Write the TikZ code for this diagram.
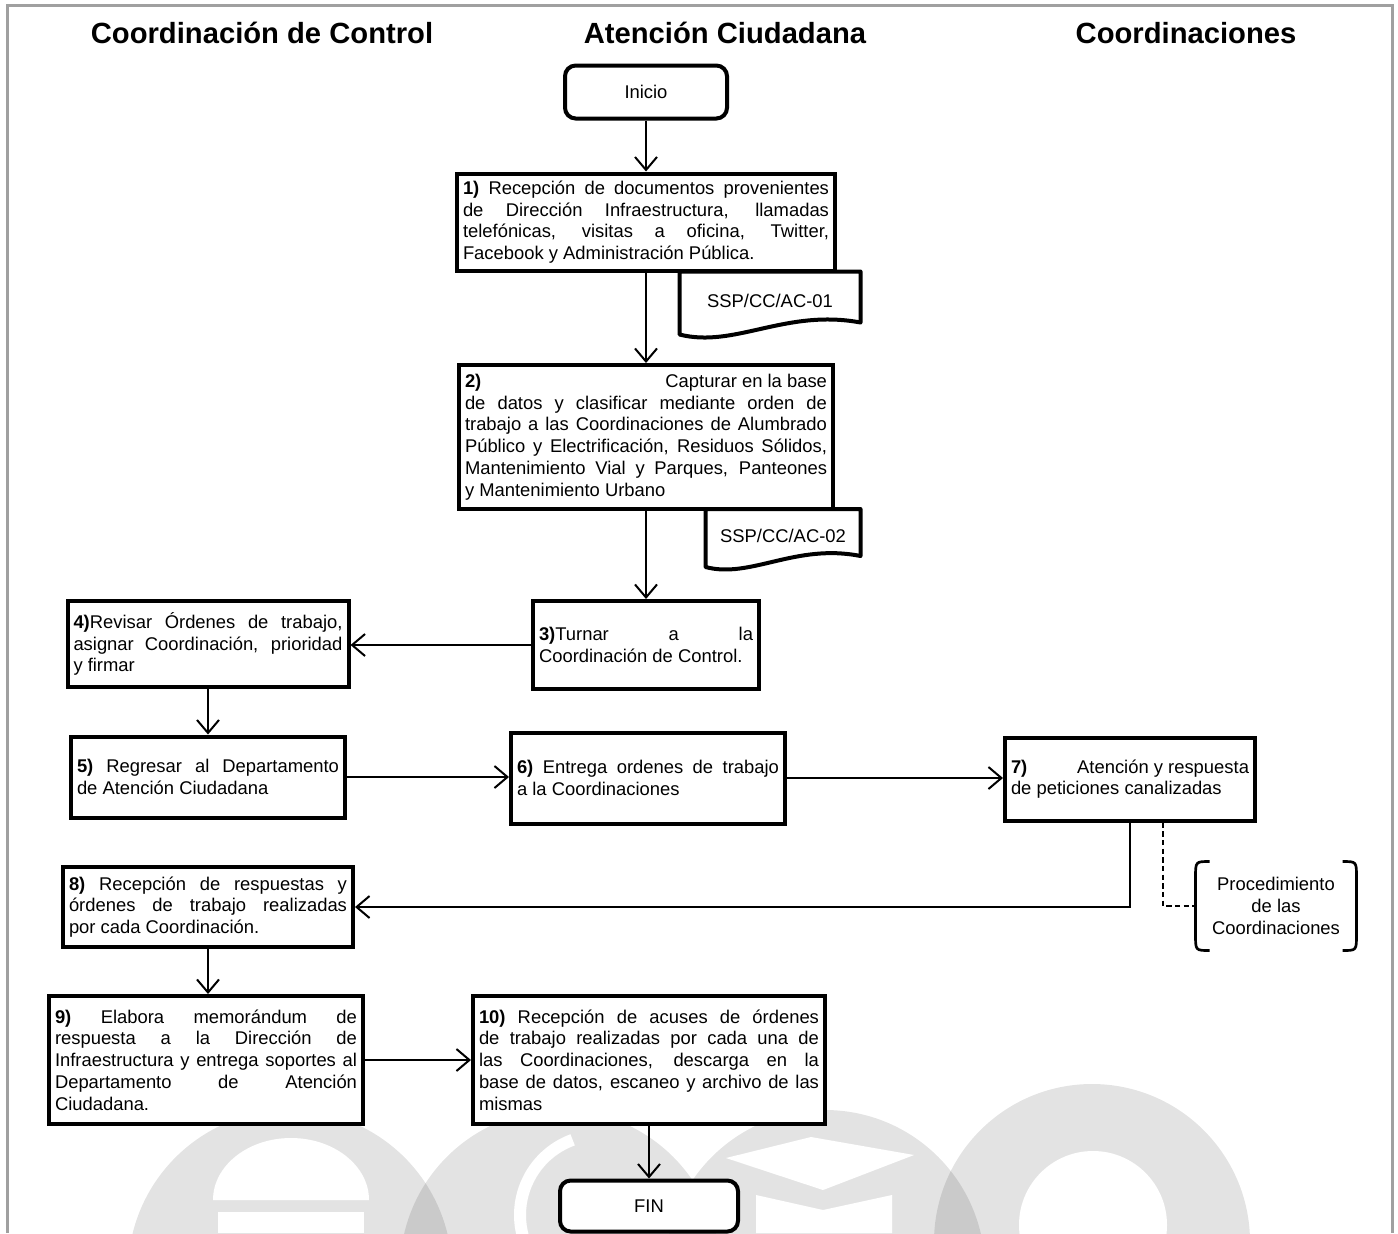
\documentclass[tikz,border=0pt]{standalone}
\usepackage{fontspec}
\setmainfont{Liberation Sans}
\usetikzlibrary{arrows.meta,calc}
\tolerance=10000
\hbadness=10000
\definecolor{marcogris}{RGB}{160,160,160}

\tikzset{every picture/.style={line width=0.75pt},
  paso/.style={draw, fill=white, line width=3pt, align=justify, inner xsep=4.5pt, inner ysep=2pt, font=\fontsize{13.8}{16.3}\selectfont},
  terminal/.style={draw, fill=white, line width=3pt, rounded corners=8pt, align=center, font=\fontsize{13.8}{16.3}\selectfont},
  docu/.style={inner sep=0pt, align=center, font=\fontsize{13.8}{16.3}\selectfont},
  docborde/.style={line width=3pt, line join=round},
  flecha/.style={line width=1.5pt, -{Straight Barb[length=9.75pt,width=16.5pt]}},
  punteado/.style={line width=1.5pt, dash pattern=on 4pt off 2.5pt},
  corchete/.style={line width=2pt},
  titulo/.style={font=\fontsize{21.9}{26}\selectfont\bfseries},
  marco/.style={draw=marcogris, line width=2.25pt},
  marca/.style={fill=black, fill opacity=0.11}
}

\begin{document}
\begin{tikzpicture}[x=0.75pt,y=0.75pt,yscale=-1,xscale=1]
\useasboundingbox (0,0) rectangle (1398,1233);

%Watermark
\begin{scope}
\clip (0,0) rectangle (1398,1233);
\fill[marca] (290,1272) circle (162);
\fill[marca] (560,1270) circle (160);
\fill[marca] (825,1270) circle (160);
\fill[marca] (1092,1242) circle (158);
\fill[white] (213,1200) arc (180:360:78 and 62) -- cycle;
\fill[white] (218,1212) rectangle (364,1233);
\draw[white, line width=9pt] (600,1215) ++(150:80) arc (150:250:80);
\fill[white] (726,1158) -- (811,1137) -- (914,1155) -- (823,1190) -- cycle;
\fill[white] (756,1195) -- (823,1210) -- (892,1195) -- (892,1233) -- (756,1233) -- cycle;
\fill[white] (1093,1225) circle (74);
\end{scope}

%Frame
\draw[marco] (7,1233) -- (7,5) -- (1392,5) -- (1392,1233);

% Text Node
\node[titulo] (t1) at (262,33) {Coordinación de Control};
% Text Node
\node[titulo] (t2) at (725,33) {Atención Ciudadana};
% Text Node
\node[titulo] (t3) at (1186,33) {Coordinaciones};

%Shape: Rounded Rect
\node[terminal, minimum width=121.5pt, minimum height=39.75pt] (inicio) at (646,92) {Inicio};

%Shape: Rectangle
\node[paso, text width=274.5pt, minimum height=72.75pt] (s1) at (646,222) {\textbf{1)} Recepción de documentos provenientes\linebreak de Dirección Infraestructura, llamadas\linebreak telefónicas, visitas a oficina, Twitter,\linebreak Facebook y Administración Pública.};

%Shape: Document
\node[docu, minimum width=135pt, minimum height=43.5pt] (doc1) at (770,301) {SSP/CC/AC-01};
\draw[docborde] ($(doc1.south east)+(0,-8)$) -- (doc1.north east) -- (doc1.north west) -- ($(doc1.south west)+(0,4)$) .. controls ($(doc1.south west)+(55,18)$) and ($(doc1.south east)+(-75,-22)$) .. ($(doc1.south east)+(0,-8)$) -- cycle;

%Shape: Rectangle
\node[paso, text width=271.5pt, minimum height=108pt] (s2) at (646,437) {\textbf{2)}\hfill Capturar en la base\linebreak de datos y clasificar mediante orden de\linebreak trabajo a las Coordinaciones de Alumbrado\linebreak Público y Electrificación, Residuos Sólidos,\linebreak Mantenimiento Vial y Parques, Panteones\linebreak y Mantenimiento Urbano};

%Shape: Document
\node[docu, minimum width=115.5pt, minimum height=39.75pt] (doc2) at (783,536) {SSP/CC/AC-02};
\draw[docborde] ($(doc2.south east)+(0,-7)$) -- (doc2.north east) -- (doc2.north west) -- ($(doc2.south west)+(0,4)$) .. controls ($(doc2.south west)+(45,16)$) and ($(doc2.south east)+(-65,-20)$) .. ($(doc2.south east)+(0,-7)$) -- cycle;

%Shape: Rectangle
\node[paso, text width=160.5pt, minimum height=66pt] (s3) at (646,645) {\textbf{3)}Turnar a la\linebreak Coordinación de Control.};
%Shape: Rectangle
\node[paso, text width=201.75pt, minimum height=64.5pt] (s4) at (208,644) {\textbf{4)}Revisar Órdenes de trabajo,\linebreak asignar Coordinación, prioridad\linebreak y firmar};
%Shape: Rectangle
\node[paso, text width=196.5pt, minimum height=60.75pt] (s5) at (208,777) {\textbf{5)} Regresar al Departamento\linebreak de Atención Ciudadana};
%Shape: Rectangle
\node[paso, text width=196.5pt, minimum height=68.25pt] (s6) at (648,778) {\textbf{6)} Entrega ordenes de trabajo\linebreak a la Coordinaciones};
%Shape: Rectangle
\node[paso, text width=178.5pt, minimum height=62.25pt] (s7) at (1130,779) {\textbf{7)}\hfill Atención y respuesta\linebreak de peticiones canalizadas};
%Shape: Rectangle
\node[paso, text width=208.5pt, minimum height=60pt] (s8) at (208,907) {\textbf{8)} Recepción de respuestas y\linebreak órdenes de trabajo realizadas\linebreak por cada Coordinación.};

% Text Node
\node[docu, minimum width=120pt, minimum height=66pt] (proc) at (1276,906) {Procedimiento\\de las\\Coordinaciones};
\draw[corchete] ($(proc.north west)+(14,0)$) .. controls (proc.north west) .. ($(proc.north west)+(0,16)$) -- ($(proc.south west)+(0,-16)$) .. controls (proc.south west) .. ($(proc.south west)+(14,0)$);
\draw[corchete] ($(proc.north east)+(-14,0)$) .. controls (proc.north east) .. ($(proc.north east)+(0,16)$) -- ($(proc.south east)+(0,-16)$) .. controls (proc.south east) .. ($(proc.south east)+(-14,0)$);

%Shape: Rectangle
\node[paso, text width=226.5pt, minimum height=96pt] (s9) at (206,1060) {\textbf{9)} Elabora memorándum de\linebreak respuesta a la Dirección de\linebreak Infraestructura y entrega soportes al\linebreak Departamento de Atención\linebreak Ciudadana.};
%Shape: Rectangle
\node[paso, text width=255pt, minimum height=96pt] (s10) at (649,1060) {\textbf{10)} Recepción de acuses de órdenes\linebreak de trabajo realizadas por cada una de\linebreak las Coordinaciones, descarga en la\linebreak base de datos, escaneo y archivo de las\linebreak mismas};

%Shape: Rounded Rect
\node[terminal, minimum width=133.5pt, minimum height=38.25pt] (fin) at (649,1206) {FIN};

\coordinate (c7) at (1130,907);
\coordinate (d7) at (1163,907);

%Straight Lines
\draw[flecha] (inicio) -- (s1);
\draw[flecha] (s1) -- (s2);
\draw[flecha] (s2) -- (s3);
\draw[flecha] (s3.west) -- (s3.west -| s4.east);
\draw[flecha] (s4) -- (s5);
\draw[flecha] (s5.east) -- (s5.east -| s6.west);
\draw[flecha] (s6.east) -- (s6.east -| s7.west);
\draw[flecha] (s7.south -| c7) |- (s8.east);
\draw[punteado] (s7.south -| d7) |- (proc.west);
\draw[flecha] (s8.south) -- (s8.south |- s9.north);
\draw[flecha] (s9.east) -- (s9.east -| s10.west);
\draw[flecha] (s10) -- (fin);
\end{tikzpicture}
\end{document}
